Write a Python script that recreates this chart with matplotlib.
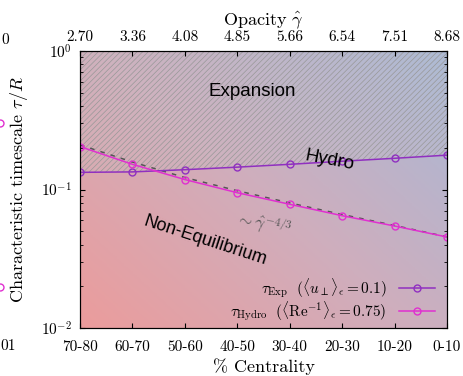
import numpy as np
import matplotlib
matplotlib.use('Agg')
import matplotlib.pyplot as plt
from matplotlib.colors import LinearSegmentedColormap

plt.rcParams['font.family'] = 'serif'
plt.rcParams['font.serif'] = ['cmr10']
plt.rcParams['mathtext.fontset'] = 'cm'
plt.rcParams['axes.formatter.use_mathtext'] = True

# data
centrality = ['70-80', '60-70', '50-60', '40-50', '30-40', '20-30', '10-20', '0-10']
opacity = ['2.70', '3.36', '4.08', '4.85', '5.66', '6.54', '7.51', '8.68']
tau_exp = [0.133, 0.134, 0.139, 0.145, 0.152, 0.160, 0.168, 0.177]
tau_hydro = [0.204, 0.152, 0.118, 0.0948, 0.0782, 0.0647, 0.0545, 0.0454]
gamma_scaling = [0.210, 0.158, 0.122, 0.098, 0.080, 0.066, 0.055, 0.0455]

x = np.arange(len(centrality))

fig = plt.figure(figsize=(4.63, 3.76), dpi=100)
ax = fig.add_axes([80 / 463, 1 - 328 / 376, 367 / 463, 277 / 376])

# diagonal background gradient
cmap = LinearSegmentedColormap.from_list('bg', ['#eb9c9c', '#cfaebd', '#a8b8d6'])
gx, gy = np.meshgrid(np.linspace(0, 1, 200), np.linspace(0, 1, 200))
ax.imshow(0.55 * gx + 0.45 * gy, cmap=cmap, origin='lower', extent=[0, 1, 0, 1],
          transform=ax.transAxes, aspect='auto', zorder=0)

# hatched expansion region
plt.rcParams['hatch.linewidth'] = 0.5
ax.fill_between(x, tau_exp, 1.0, facecolor=(0.78, 0.78, 0.8, 0.2),
                edgecolor='#989898', hatch='//////', linewidth=0, zorder=1)

ax.plot(x, gamma_scaling, color='#555555', ls=(0, (3, 4)), lw=1.1, zorder=2)
ax.plot(x, tau_exp, color='#9030c0', marker='o', mfc='none', ms=5, lw=1.1, zorder=3,
        label=r'$\tau_{\rm Exp}\ \ (\langle u_\perp\rangle_\epsilon = 0.1)$')
ax.plot(x, tau_hydro, color='#e030d0', marker='o', mfc='none', ms=5, lw=1.1, zorder=3,
        label=r'$\tau_{\rm Hydro}\ \ (\langle {\rm Re}^{-1}\rangle_\epsilon = 0.75)$')

ax.set_yscale('log')
ax.set_ylim(1e-2, 1e0)
ax.set_xlim(0, len(centrality) - 1)
ax.set_xticks(x)
ax.set_xticklabels(centrality)
ax.tick_params(which='both', direction='in', top=False, right=True, labelsize=11)
ax.tick_params(axis='x', pad=9)
ax.tick_params(axis='y', pad=6)
ax.set_xlabel('% Centrality', fontsize=13, labelpad=3)
ax.set_ylabel(r'Characteristic timescale $\tau/R$', fontsize=13, labelpad=8)

top = ax.twiny()
top.set_xlim(ax.get_xlim())
top.set_xticks(x)
top.set_xticklabels(opacity)
top.tick_params(direction='in', labelsize=11, pad=5)
top.set_xlabel(r'Opacity $\hat{\gamma}$', fontsize=13, labelpad=4)

ax.text(0.47, 0.855, 'Expansion', transform=ax.transAxes, family='Liberation Sans',
        fontsize=13.5, ha='center', va='center')
ax.text(0.68, 0.605, 'Hydro', transform=ax.transAxes, family='Liberation Sans',
        fontsize=13.5, ha='center', va='center', rotation=-11)
ax.text(0.34, 0.315, 'Non-Equilibrium', transform=ax.transAxes, family='Liberation Sans',
        fontsize=13, ha='center', va='center', rotation=-18)
ax.text(0.50, 0.375, r'$\sim\hat{\gamma}^{-4/3}$', transform=ax.transAxes, color='#555555',
        fontsize=12, ha='center', va='center', rotation=-12)

ax.legend(loc='lower right', frameon=False, markerfirst=False, fontsize=11,
          handlelength=2.4, borderaxespad=0.0, labelspacing=0.0,
          bbox_to_anchor=(0.985, -0.005))

# fragments of the neighbouring panel
fig.text(0.002, 1 - 40 / 376, '0', fontsize=11, va='center')
fig.text(0.0, 1 - 346 / 376, '01', fontsize=11, va='center')
fig.add_artist(plt.Line2D([0.0], [1 - 123 / 376], marker='o', mfc='none', mec='#e030d0',
                          ms=5, transform=fig.transFigure))
fig.add_artist(plt.Line2D([0.0], [1 - 287 / 376], marker='o', mfc='none', mec='#e030d0',
                          ms=5, transform=fig.transFigure))

fig.savefig('out.png', dpi=100)
